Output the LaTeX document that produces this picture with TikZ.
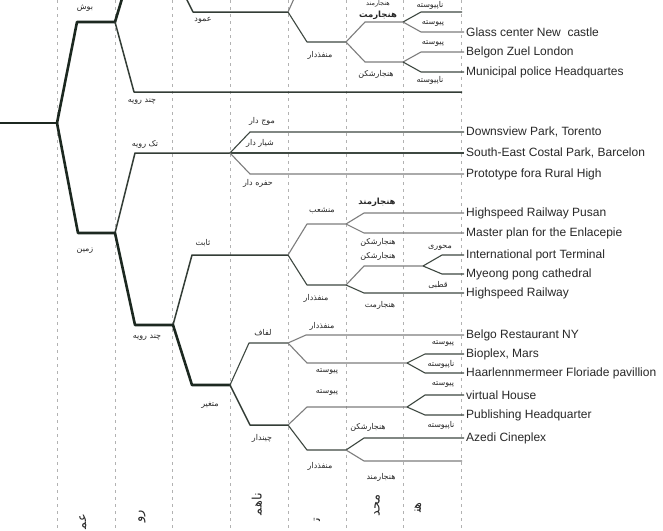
\documentclass[tikz,border=0pt]{standalone}
\usepackage{fontspec}
\setmainfont{Liberation Sans}
\newfontfamily\fafont[Script=Arabic]{DejaVu Sans}
\TeXXeTstate=1
\definecolor{dk}{RGB}{28,40,32}
\definecolor{gr}{RGB}{125,125,125}
\definecolor{txt}{RGB}{40,40,40}
\tikzset{
  mainln/.style={line width=2.6pt, draw=dk, line join=round, line cap=round},
  midln/.style={line width=1.5pt, draw=dk!90, line join=round},
  thinln/.style={line width=1.1pt, draw=gr, line join=round},
  darkln/.style={line width=1.1pt, draw=dk!85, line join=round},
  gridln/.style={draw=black!30, line width=0.5pt, dash pattern=on 3pt off 4pt},
  fa/.style={font=\fafont\fontsize{8}{9}\selectfont, text=txt, inner sep=0pt},
  fab/.style={font=\fafont\bfseries\fontsize{8.5}{9}\selectfont, text=txt, inner sep=0pt},
  axis/.style={font=\fafont\fontsize{13}{14}\selectfont, text=txt, inner sep=0pt, rotate=90, anchor=east},
  leaf/.style={font=\fontsize{12}{13}\selectfont, anchor=west, inner sep=2pt, text=txt},
}
\begin{document}
\begin{tikzpicture}[x=1pt,y=-1pt]
\useasboundingbox (0,0) rectangle (663,530);
\clip (0,0) rectangle (663,530);
\fill[white] (0,0) rectangle (663,530);
% grid
\foreach \gx in {57.5,115,172.5,230,288,346,403,461}
  \draw[gridln] (\gx,0) -- (\gx,530);

% ---------- coordinates ----------
\coordinate (r0) at (-5,123);
\coordinate (r) at (57,123);
\coordinate (bE) at (77,22);  \coordinate (b) at (115,22);
\coordinate (zE) at (78,233); \coordinate (z) at (115,233);
\coordinate (bUp) at (124,-8);
\coordinate (crE) at (134,92); \coordinate (crEnd) at (462,92);
% top branch (amud)
\coordinate (amS) at (183,-8); \coordinate (amE) at (193,12); \coordinate (am) at (288,12);
\coordinate (amUp) at (297,-8);
\coordinate (m1E) at (307,42); \coordinate (m1) at (346,42);
\coordinate (h1E) at (365,22); \coordinate (h1) at (403,22);
\coordinate (h2E) at (365,62); \coordinate (h2) at (403,62);
\coordinate (p1E) at (421,12); \coordinate (p1) at (462,12);
\coordinate (p2E) at (421,32);
\coordinate (p3E) at (421,52);
\coordinate (p4E) at (421,72);
% tak rooye
\coordinate (tkE) at (135,153); \coordinate (tk) at (230,153);
\coordinate (mjE) at (250,132); \coordinate (hfE) at (250,174);
% chand rooye (lower)
\coordinate (cr2E) at (135,325); \coordinate (cr2) at (173,325);
\coordinate (sbE) at (192,255); \coordinate (sb) at (288,255);
\coordinate (mnE) at (307,224); \coordinate (mn) at (346,224);
\coordinate (hmE) at (364,213); \coordinate (hsE) at (364,233);
\coordinate (mfE) at (307,285); \coordinate (mf) at (346,285);
\coordinate (hs2E) at (364,266); \coordinate (hs2) at (423,266);
\coordinate (mhE) at (442,255); \coordinate (qtE) at (442,274);
\coordinate (hm2E) at (364,293);
\coordinate (mtE) at (192,385); \coordinate (mt) at (230,385);
\coordinate (lfE) at (249,343); \coordinate (lf) at (288,343);
\coordinate (mf2E) at (306,335);
\coordinate (pv1E) at (307,363); \coordinate (pv1) at (407,363);
\coordinate (pv1aE) at (425,354); \coordinate (pv1bE) at (425,373);
\coordinate (chE) at (250,425); \coordinate (ch) at (288,425);
\coordinate (pv2E) at (307,407); \coordinate (pv2) at (407,407);
\coordinate (pv2aE) at (425,395); \coordinate (pv2bE) at (425,415);
\coordinate (mf3E) at (307,450); \coordinate (mf3) at (346,450);
\coordinate (hs3E) at (364,438);
\coordinate (hm3E) at (364,461); \coordinate (hm3End) at (462,461);

% ---------- leaf labels ----------
\node[leaf] (lGlass) at (464,32) {Glass center New\ \ castle};
\node[leaf] (lBelgon) at (464,52) {Belgon Zuel London};
\node[leaf] (lMuni) at (464,72) {Municipal police Headquartes};
\node[leaf] (lDowns) at (464,132) {Downsview Park, Torento};
\node[leaf] (lSouth) at (464,153) {South-East Costal Park, Barcelon};
\node[leaf] (lProto) at (464,174) {Prototype fora Rural High};
\node[leaf] (lHsP) at (464,213) {Highspeed Railway Pusan};
\node[leaf] (lMaster) at (464,233) {Master plan for the Enlacepie};
\node[leaf] (lIntl) at (464,255) {International port Terminal};
\node[leaf] (lMyeong) at (464,274) {Myeong pong cathedral};
\node[leaf] (lHs) at (464,293) {Highspeed Railway};
\node[leaf] (lBelgo) at (464,335) {Belgo Restaurant NY};
\node[leaf] (lBio) at (464,354) {Bioplex, Mars};
\node[leaf] (lHaar) at (464,373) {Haarlennmermeer Floriade pavillion};
\node[leaf] (lVirt) at (464,395) {virtual House};
\node[leaf] (lPub) at (464,415) {Publishing Headquarter};
\node[leaf] (lAzedi) at (464,438) {Azedi Cineplex};

% ---------- edges ----------
\draw[mainln] (r0) -- (r);
\draw[mainln] (r) -- (bE) -- (b);
\draw[mainln] (r) -- (zE) -- (z);
\draw[mainln] (b) -- (bUp);
\draw[midln] (b) -- (crE) -- (crEnd);
\draw[midln] (amS) -- (amE) -- (am);
\draw[thinln] (am) -- (amUp);
\draw[darkln] (am) -- (m1E) -- (m1);
\draw[thinln] (m1) -- (h1E) -- (h1);
\draw[thinln] (m1) -- (h2E) -- (h2);
\draw[darkln] (h1) -- (p1E) -- (p1);
\draw[thinln] (h1) -- (p2E) -- (lGlass.west);
\draw[thinln] (h2) -- (p3E) -- (lBelgon.west);
\draw[darkln] (h2) -- (p4E) -- (lMuni.west);

\draw[midln] (z) -- (tkE) -- (tk);
\draw[darkln] (tk) -- (mjE) -- (lDowns.west);
\draw[darkln] (tk) -- (lSouth.west);
\draw[thinln] (tk) -- (hfE) -- (lProto.west);

\draw[mainln] (z) -- (cr2E) -- (cr2);
\draw[midln] (cr2) -- (sbE) -- (sb);
\draw[thinln] (sb) -- (mnE) -- (mn);
\draw[thinln] (mn) -- (hmE) -- (lHsP.west);
\draw[thinln] (mn) -- (hsE) -- (lMaster.west);
\draw[darkln] (sb) -- (mfE) -- (mf);
\draw[thinln] (mf) -- (hs2E) -- (hs2);
\draw[darkln] (hs2) -- (mhE) -- (lIntl.west);
\draw[darkln] (hs2) -- (qtE) -- (lMyeong.west);
\draw[darkln] (mf) -- (hm2E) -- (lHs.west);

\draw[mainln] (cr2) -- (mtE) -- (mt);
\draw[darkln] (mt) -- (lfE) -- (lf);
\draw[thinln] (lf) -- (mf2E) -- (lBelgo.west);
\draw[thinln] (lf) -- (pv1E) -- (pv1);
\draw[darkln] (pv1) -- (pv1aE) -- (lBio.west);
\draw[darkln] (pv1) -- (pv1bE) -- (lHaar.west);
\draw[midln] (mt) -- (chE) -- (ch);
\draw[thinln] (ch) -- (pv2E) -- (pv2);
\draw[darkln] (pv2) -- (pv2aE) -- (lVirt.west);
\draw[darkln] (pv2) -- (pv2bE) -- (lPub.west);
\draw[darkln] (ch) -- (mf3E) -- (mf3);
\draw[darkln] (mf3) -- (hs3E) -- (lAzedi.west);
\draw[thinln] (mf3) -- (hm3E) -- (hm3End);

% ---------- branch labels ----------
\node[fa] (tBush) at (85,8) {\beginR بوش\endR};
\node[fa] (tAmud) at (203,20) {\beginR عمود\endR};
\node[fa] (tChand1) at (142,102) {\beginR چند رویه\endR};
\node[fa] (tTak) at (145,144) {\beginR تک رویه\endR};
\node[fa] (tZamin) at (85,251) {\beginR زمین\endR};
\node[fa] (tSabet) at (203,243) {\beginR ثابت\endR};
\node[fa] (tChand2) at (147,338) {\beginR چند رویه\endR};
\node[fa] (tMotaghayer) at (210,405) {\beginR متغیر\endR};
\node[fa] (tMowj) at (262,121) {\beginR موج دار\endR};
\node[fa] (tShiar) at (260,143) {\beginR شیار دار\endR};
\node[fa] (tHofre) at (258,183) {\beginR حفره دار\endR};
% top group
\node[fa] (tMonfaz1) at (320,55) {\beginR منفذدار\endR};
\node[fa, font=\fafont\fontsize{6.5}{7}\selectfont] (tHanjCut) at (378,4) {\beginR هنجارمند\endR};
\node[fab] (tHanjMat1) at (378,15) {\beginR هنجارمت\endR};
\node[fa] (tHanjShek1) at (376,74) {\beginR هنجارشکن\endR};
\node[fa] (tNap1) at (430,5) {\beginR ناپیوسته\endR};
\node[fa] (tPey1) at (433,24) {\beginR پیوسته\endR};
\node[fa] (tPey2) at (433,44) {\beginR پیوسته\endR};
\node[fa] (tNap2) at (430,80) {\beginR ناپیوسته\endR};
% sabet group
\node[fa] (tMonshab) at (322,211) {\beginR منشعب\endR};
\node[fab] (tHanjMand1) at (377,202) {\beginR هنجارمند\endR};
\node[fa] (tHanjShek2) at (378,242) {\beginR هنجارشکن\endR};
\node[fa] (tMonfaz2) at (316,298) {\beginR منفذدار\endR};
\node[fa] (tHanjShek3) at (378,256) {\beginR هنجارشکن\endR};
\node[fa] (tMehvari) at (440,248) {\beginR محوری\endR};
\node[fa] (tGhotbi) at (438,285) {\beginR قطبی\endR};
\node[fa] (tHanjMat2) at (380,305) {\beginR هنجارمت\endR};
% motaghayer group
\node[fa] (tLafaf) at (263,333) {\beginR لفاف\endR};
\node[fa] (tMonfaz3) at (322,326) {\beginR منفذدار\endR};
\node[fa] (tPey3) at (327,372) {\beginR پیوسته\endR};
\node[fa] (tPey4) at (443,344) {\beginR پیوسته\endR};
\node[fa] (tNap3) at (441,364) {\beginR ناپیوسته\endR};
\node[fa] (tChindar) at (262,438) {\beginR چیندار\endR};
\node[fa] (tPey5) at (327,393) {\beginR پیوسته\endR};
\node[fa] (tPey6) at (443,385) {\beginR پیوسته\endR};
\node[fa] (tNap4) at (441,425) {\beginR ناپیوسته\endR};
\node[fa] (tHanjShek4) at (368,427) {\beginR هنجارشکن\endR};
\node[fa] (tMonfaz4) at (320,466) {\beginR منفذدار\endR};
\node[fa] (tHanjMand2) at (381,477) {\beginR هنجارمند\endR};

% ---------- axis labels (visible fragments at the bottom edge) ----------
\node[axis] (ax1) at (83,514) {\beginR عم‍\endR};
\node[axis] (ax2) at (142,510) {\beginR رو\endR};
\node[axis] (ax4) at (257,493) {\beginR ناهم‍\endR};
\node[axis] (ax5) at (317,518) {\beginR ت‍\endR};
\node[axis] (ax6) at (377,494) {\beginR محد\endR};
\node[axis] (ax7) at (418,502) {\beginR هن‍\endR};
\end{tikzpicture}
\end{document}
